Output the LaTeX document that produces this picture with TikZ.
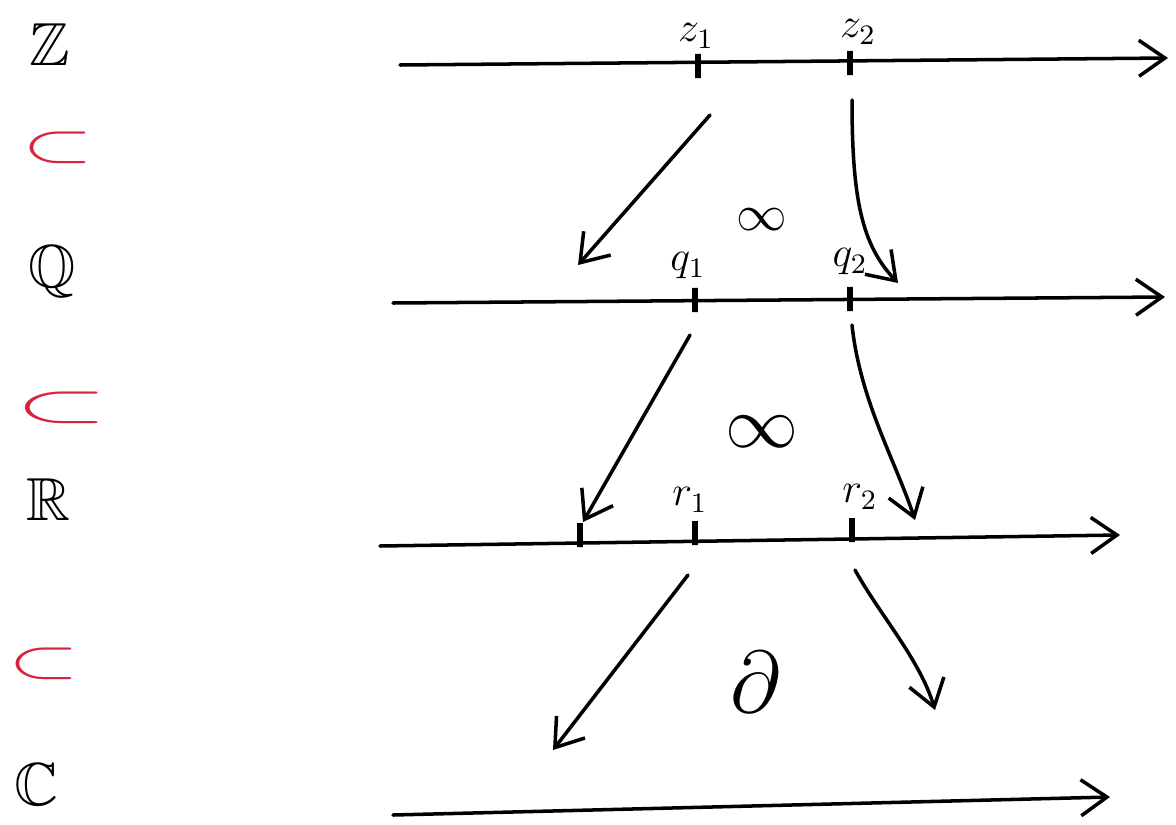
\documentclass[tikz,border=0pt]{standalone}
\usepackage{amssymb}
\usepackage{graphicx}
\usetikzlibrary{arrows.meta}
\definecolor{inkred}{RGB}{214,36,60}
\newcommand{\incl}[1][1.25]{\scalebox{#1}[0.75]{$\subset$}}
\begin{document}
\begin{tikzpicture}[x=0.01cm,y=-0.01cm,line width=1pt,line cap=round,
    >={Straight Barb[length=2.6mm,width=3.6mm]},
    set/.style={font=\LARGE},
    sub/.style={font=\huge,text=inkred,inner sep=0pt},
    tick/.style={draw,minimum width=0pt,minimum height=0.24cm,inner sep=0pt,line width=1.6pt},
    lbl/.style={font=\large,inner sep=1pt}]
    \useasboundingbox (0,0) rectangle (1176,824);
    % left column
    \node[set] (Z) at (50,45) {$\mathbb{Z}$};
    \node[sub] (s1) at (58,148) {\incl};
    \node[set] (Q) at (52,272) {$\mathbb{Q}$};
    \node[sub] (s2) at (62,408) {\incl[1.63]};
    \node[set] (R) at (48,500) {$\mathbb{R}$};
    \node[sub] (s3) at (44,664) {\incl};
    \node[set] (C) at (36,785) {$\mathbb{C}$};
    % axes
    \coordinate (zs) at (400,65);
    \coordinate (ze) at (1168,58);
    \coordinate (qs) at (393,303);
    \coordinate (qe) at (1165,297);
    \coordinate (rs) at (380,546);
    \coordinate (re) at (1120,535);
    \coordinate (cs) at (393,815);
    \coordinate (ce) at (1110,797);
    \draw[->] (zs) -- (ze);
    \draw[->] (qs) -- (qe);
    \draw[->] (rs) -- (re);
    \draw[->] (cs) -- (ce);
    % ticks
    \node[tick] (z1) at (698,66) {};
    \node[tick] (z2) at (850,63) {};
    \node[tick] (q1) at (695,300) {};
    \node[tick] (q2) at (850,299) {};
    \node[tick] (r0) at (580,535) {};
    \node[tick] (r1) at (695,533) {};
    \node[tick] (r2) at (852,530) {};
    \node[lbl] at (696,36) {$z_1$};
    \node[lbl] at (858,32) {$z_2$};
    \node[lbl] at (688,266) {$q_1$};
    \node[lbl] at (850,262) {$q_2$};
    \node[lbl] at (690,500) {$r_1$};
    \node[lbl] at (860,497) {$r_2$};
    % maps
    \coordinate (z1a) at (710,115);
    \coordinate (q1b) at (578,265);
    \coordinate (z2a) at (852,100);
    \coordinate (q2b) at (898,283);
    \coordinate (q1a) at (690,335);
    \coordinate (r1b) at (583,522);
    \coordinate (q2a) at (852,325);
    \coordinate (r2b) at (915,520);
    \coordinate (r1a) at (688,575);
    \coordinate (c1b) at (553,750);
    \coordinate (r2a) at (855,570);
    \coordinate (c2b) at (935,710);
    \draw[->] (z1a) -- (q1b);
    \draw[->] (z2a) .. controls (852,200) and (862,245) .. (q2b);
    \draw[->] (q1a) -- (r1b);
    \draw[->] (q2a) .. controls (860,400) and (895,460) .. (r2b);
    \draw[->] (r1a) -- (c1b);
    \draw[->] (r2a) .. controls (880,615) and (920,660) .. (c2b);
    % sizes
    \node[font=\Large] (i1) at (762,220) {$\infty$};
    \node[font=\huge] (i2) at (762,432) {$\infty$};
    \node[font=\Huge] (d) at (755,682) {$\partial$};
\end{tikzpicture}
\end{document}
